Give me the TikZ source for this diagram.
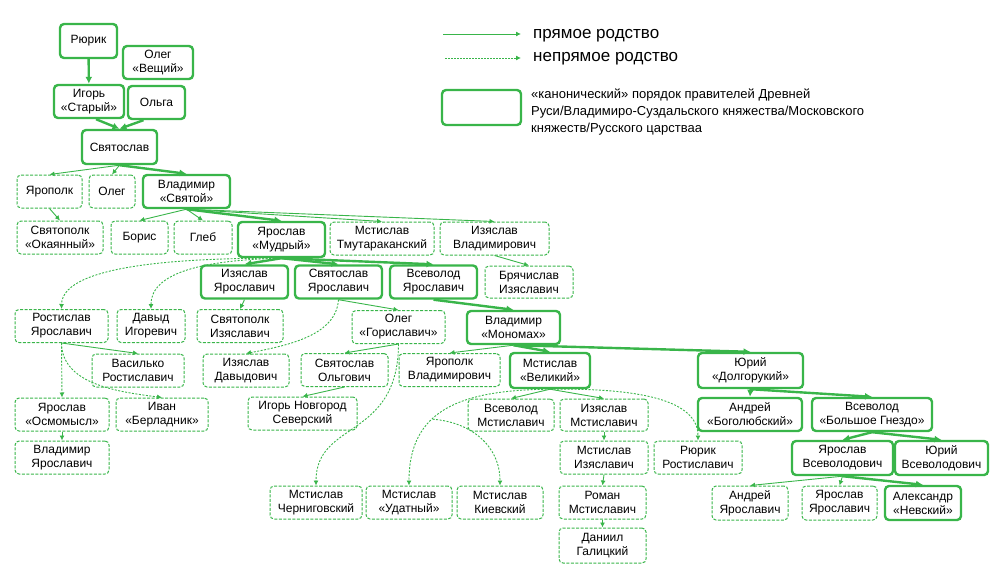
\documentclass[tikz,border=0pt]{standalone}
\usepackage{fontspec}
\setmainfont{Liberation Sans}
\usetikzlibrary{arrows.meta}
\definecolor{rgreen}{RGB}{57,181,74}

\tikzset{
  ruler/.style={draw=rgreen, line width=2.4pt, rounded corners=4pt, align=center,
    minimum height=33pt, inner sep=1pt, font=\fontsize{12}{14}\selectfont},
  kin/.style={ruler, line width=1pt, dash pattern=on 3pt off 1.5pt},
  main/.style={draw=rgreen, line width=2.4pt, -{Latex[length=7pt,width=7pt]}},
  link/.style={draw=rgreen, line width=0.9pt, -{Latex[length=5pt,width=5pt]}},
  dlink/.style={link, dash pattern=on 2pt off 1.5pt},
}

\begin{document}
\begin{tikzpicture}[x=1pt, y=-1pt]
  \useasboundingbox (0,0) rectangle (1000,586);

  % legend
  \coordinate (sola) at (443,34);
  \coordinate (solb) at (521,34);
  \coordinate (dasha) at (445,58);
  \coordinate (dashb) at (521,58);
  \draw[link] (sola) -- (solb);
  \draw[dlink, dash pattern=on 1.5pt off 1.5pt] (dasha) -- (dashb);
  \node[anchor=base west, inner sep=0, font=\fontsize{17}{20}\selectfont] (direct) at (533,38) {прямое родство};
  \node[anchor=base west, inner sep=0, font=\fontsize{17}{20}\selectfont] (indirect) at (533,62) {непрямое родство};
  \node[ruler, minimum width=79pt, minimum height=35pt] (legendbox) at (481.5,107.5) {};
  \node[anchor=north west, inner sep=0, align=left, font=\fontsize{13}{16.7}\selectfont] (canon) at (531,89)
    {«канонический» порядок правителей Древней\\Руси/Владимиро-Суздальского княжества/Московского\\княжеств/Русского царстваа};

  % rulers and kin
  \node[ruler, minimum width=57pt, minimum height=34pt] (rurik) at (88.5,41) {Рюрик};
  \node[ruler, minimum width=70pt] (olegv) at (158,62.5) {Олег\\«Вещий»};
  \node[ruler, minimum width=70pt] (igor) at (89,101.5) {Игорь\\«Старый»};
  \node[ruler, minimum width=57pt] (olga) at (156.5,102.5) {Ольга};
  \node[ruler, minimum width=75pt, minimum height=34pt] (svyatoslav) at (119.5,147) {Святослав};
  \node[kin, minimum width=65pt] (yaropolk) at (49.5,191.5) {Ярополк};
  \node[kin, minimum width=46pt] (oleg) at (112,191.5) {Олег};
  \node[ruler, minimum width=87pt] (vladimir) at (186.5,191.5) {Владимир\\«Святой»};
  \node[kin, minimum width=86pt] (svyatopolk) at (60,237.5) {Святополк\\«Окаянный»};
  \node[kin, minimum width=57pt] (boris) at (139.5,237.5) {Борис};
  \node[kin, minimum width=58pt] (gleb) at (203,237.5) {Глеб};
  \node[ruler, minimum width=87pt, minimum height=35pt] (yaroslav) at (281.5,239.5) {Ярослав\\«Мудрый»};
  \node[kin, minimum width=104pt] (mstislavt) at (382,238.5) {Мстислав\\Тмутараканский};
  \node[kin, minimum width=109pt] (izyaslavv) at (494.5,238.5) {Изяслав\\Владимирович};
  \node[ruler, minimum width=87pt] (izyaslavya) at (244.5,282) {Изяслав\\Ярославич};
  \node[ruler, minimum width=87pt] (svyatoslavya) at (338.5,282) {Святослав\\Ярославич};
  \node[ruler, minimum width=87pt] (vsevolodya) at (433.5,282) {Всеволод\\Ярославич};
  \node[kin, minimum width=88pt, minimum height=32pt] (bryachislav) at (529,282) {Брячислав\\Изяславич};
  \node[kin, minimum width=93pt] (rostislav) at (61.5,326) {Ростислав\\Ярославич};
  \node[kin, minimum width=68pt] (davyd) at (151,326) {Давыд\\Игоревич};
  \node[kin, minimum width=86pt] (svyatopolki) at (240,326) {Святополк\\Изяславич};
  \node[kin, minimum width=93pt] (olegg) at (398.5,327) {Олег\\«Гориславич»};
  \node[ruler, minimum width=93pt] (monomakh) at (513.5,327.5) {Владимир\\«Мономах»};
  \node[kin, minimum width=92pt] (vasilko) at (138,370.5) {Василько\\Ростиславич};
  \node[kin, minimum width=86pt] (izyaslavd) at (246,370.5) {Изяслав\\Давыдович};
  \node[kin, minimum width=87pt] (svyatoslavo) at (344.5,370) {Святослав\\Ольгович};
  \node[kin, minimum width=101pt] (yaropolkv) at (449.5,370) {Ярополк\\Владимирович};
  \node[ruler, minimum width=80pt, minimum height=35pt] (velikiy) at (550,370.5) {Мстислав\\«Великий»};
  \node[ruler, minimum width=105pt, minimum height=35pt] (dolgoruky) at (750.5,370.5) {Юрий\\«Долгорукий»};
  \node[kin, minimum width=94pt] (osmomysl) at (62,414.5) {Ярослав\\«Осмомысл»};
  \node[kin, minimum width=92pt] (berladnik) at (162,414.5) {Иван\\«Берладник»};
  \node[kin, minimum width=109pt] (igorns) at (302.5,413.5) {Игорь Новгород\\Северский};
  \node[kin, minimum width=86pt, minimum height=32pt] (vsevolodm) at (511,415) {Всеволод\\Мстиславич};
  \node[kin, minimum width=88pt, minimum height=32pt] (izyaslavm) at (604,415) {Изяслав\\Мстиславич};
  \node[ruler, minimum width=104pt] (bogolyubsky) at (750,414.5) {Андрей\\«Боголюбский»};
  \node[ruler, minimum width=120pt] (bolshoe) at (872,414.5) {Всеволод\\«Большое Гнездо»};
  \node[kin, minimum width=94pt] (vladimiry) at (62,457.5) {Владимир\\Ярославич};
  \node[kin, minimum width=88pt] (mstislavi) at (604,457.5) {Мстислав\\Изяславич};
  \node[kin, minimum width=88pt] (rurikr) at (698,457.5) {Рюрик\\Ростиславич};
  \node[ruler, minimum width=101pt, minimum height=34pt] (yaroslavvs) at (842.5,458) {Ярослав\\Всеволодович};
  \node[ruler, minimum width=93pt, minimum height=34pt] (yuryvs) at (941.5,458) {Юрий\\Всеволодович};
  \node[kin, minimum width=92pt] (chernigovsky) at (316,502.5) {Мстислав\\Черниговский};
  \node[kin, minimum width=86pt] (udatny) at (409,502.5) {Мстислав\\«Удатный»};
  \node[kin, minimum width=86pt] (kievsky) at (500,502.5) {Мстислав\\Киевский};
  \node[kin, minimum width=87pt] (roman) at (602.5,502.5) {Роман\\Мстиславич};
  \node[kin, minimum width=76pt, minimum height=34pt] (andreyya) at (750,503) {Андрей\\Ярославич};
  \node[kin, minimum width=75pt, minimum height=34pt] (yaroslavya) at (839.5,503) {Ярослав\\Ярославич};
  \node[ruler, minimum width=76pt, minimum height=34pt] (nevsky) at (923,503) {Александр\\«Невский»};
  \node[kin, minimum width=87pt, minimum height=35pt] (daniil) at (602.5,545.5) {Даниил\\Галицкий};

  % direct line of rulers
  \draw[main] (rurik) -- (igor);
  \draw[main] ([xshift=7pt]igor.south) -- (svyatoslav.north);
  \draw[main] ([xshift=-13pt]olga.south) -- (svyatoslav.north);
  \draw[main] (svyatoslav.south) -- (vladimir.north);
  \draw[main] (vladimir.south) -- (yaroslav.north);
  \draw[main] (yaroslav.south) -- (izyaslavya.north);
  \draw[main] (yaroslav.south) -- (svyatoslavya.north);
  \draw[main] (yaroslav.south) -- (vsevolodya.north);
  \draw[main] (vsevolodya.south) -- (monomakh.north);
  \draw[main] (monomakh.south) -- (velikiy.north);
  \draw[main] (monomakh.south) -- (dolgoruky.north);
  \draw[main] (dolgoruky.south) -- (bogolyubsky.north);
  \draw[main] (dolgoruky.south) -- (bolshoe.north);
  \draw[main] (bolshoe.south) -- (yaroslavvs.north);
  \draw[main] (bolshoe.south) -- (yuryvs.north);
  \draw[main] (yaroslavvs.south) -- (nevsky.north);

  % sons
  \draw[link] (svyatoslav.south) -- (yaropolk.north);
  \draw[link] (svyatoslav.south) -- (oleg.north);
  \draw[link] (yaropolk.south) -- (svyatopolk.north);
  \draw[link] (vladimir.south) -- (boris.north);
  \draw[link] (vladimir.south) -- (gleb.north);
  \draw[link] (vladimir.south) -- (mstislavt.north);
  \draw[link] (vladimir.south) -- (izyaslavv.north);
  \draw[link] (izyaslavv.south) -- (bryachislav.north);
  \draw[link] (izyaslavya.south) -- (svyatopolki.north);
  \draw[link] (svyatoslavya.south) -- (olegg.north);
  \draw[link] (rostislav.south) -- (vasilko.north);
  \draw[link] (osmomysl.south) -- (vladimiry.north);
  \draw[link] (olegg.south) -- (svyatoslavo.north);
  \draw[link] (svyatoslavo.south) -- (igorns.north);
  \draw[link] (monomakh.south) -- (yaropolkv.north);
  \draw[link] (velikiy.south) -- (vsevolodm.north);
  \draw[link] (velikiy.south) -- (izyaslavm.north);
  \draw[link] (izyaslavm.south) -- (mstislavi.north);
  \draw[link] (mstislavi.south) -- (roman.north);
  \draw[link] (roman.south) -- (daniil.north);
  \draw[link] (yaroslavvs.south) -- (andreyya.north);
  \draw[link] (yaroslavvs.south) -- (yaroslavya.north);

  % indirect kinship
  \draw[dlink] (yaroslav.south) .. controls (200,258) and (62,262) .. (rostislav.north);
  \draw[dlink] (yaroslav.south) .. controls (205,260) and (151,272) .. (davyd.north);
  \draw[dlink] (svyatoslavya.south) .. controls (336,335) and (290,345) .. (izyaslavd.north);
  \draw[dlink] (rostislav.south) -- (osmomysl.north);
  \draw[dlink] (rostislav.south) .. controls (62,385) and (120,392) .. (berladnik.north);
  \draw[dlink] (olegg.south) .. controls (398,440) and (316,420) .. (chernigovsky.north);
  \draw[dlink] (velikiy.south) .. controls (460,390) and (409,410) .. coordinate[pos=0.6] (fork) (udatny.north);
  \draw[dlink] (fork) .. controls (470,422) and (500,445) .. (kievsky.north);
  \draw[dlink] (velikiy.south) .. controls (640,388) and (698,400) .. (rurikr.north);
\end{tikzpicture}
\end{document}
